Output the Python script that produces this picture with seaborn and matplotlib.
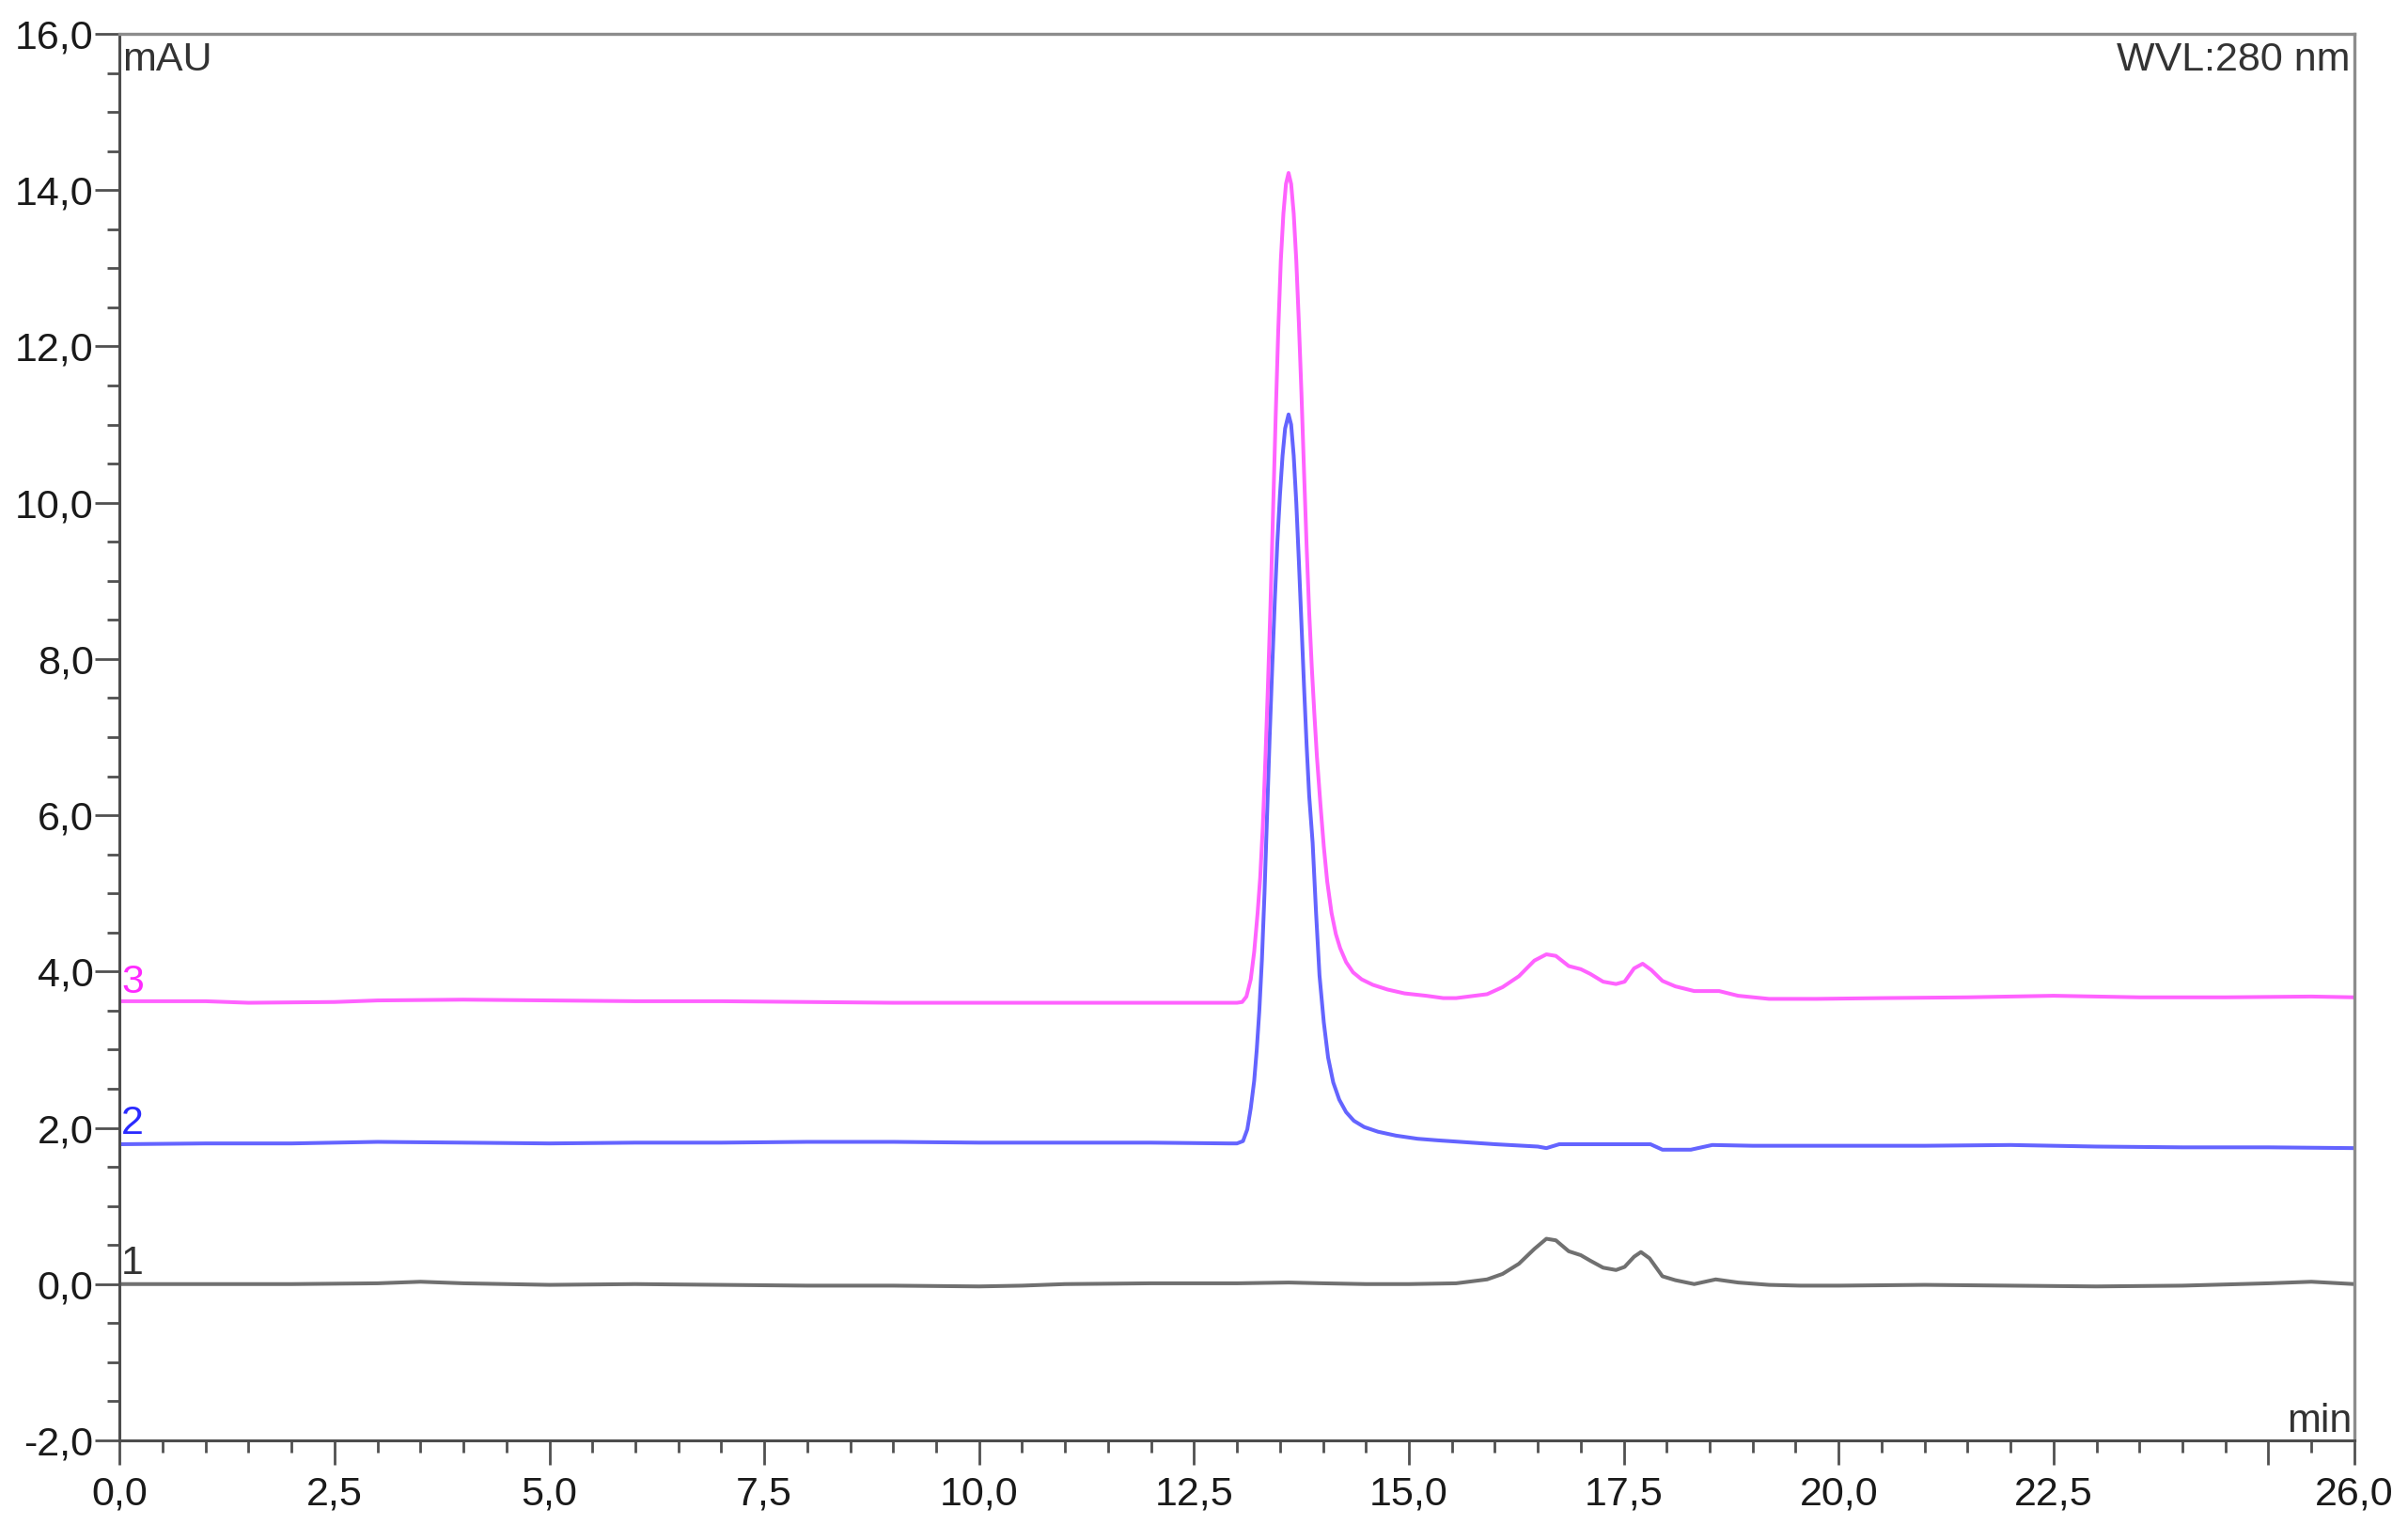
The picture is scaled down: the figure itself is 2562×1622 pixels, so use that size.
import pandas as pd
import matplotlib
matplotlib.use("Agg")
import matplotlib.pyplot as plt
from matplotlib.ticker import MultipleLocator, FixedLocator, FuncFormatter
import seaborn as sns

# trace 1 (grey) - retention time (min) / absorbance (mAU)
t1 = [0.0, 1.0, 2.0, 3.0, 3.5, 4.0, 5.0, 6.0, 7.0, 8.0, 9.0, 10.0, 10.5, 11.0,
      12.0, 13.0, 13.6, 14.0, 14.5, 15.0, 15.55, 15.91, 16.09, 16.28, 16.46,
      16.6, 16.71, 16.86, 17.0, 17.11, 17.26, 17.41, 17.51, 17.62, 17.7, 17.8,
      17.95, 18.1, 18.32, 18.57, 18.83, 19.19, 19.55, 20.0, 21.0, 22.0, 23.0,
      24.0, 25.0, 25.5, 26.0]
v1 = [0.0, 0.0, 0.0, 0.01, 0.03, 0.01, -0.01, 0.0, -0.01, -0.02, -0.02, -0.03,
      -0.02, 0.0, 0.01, 0.01, 0.02, 0.01, 0.0, 0.0, 0.01, 0.06, 0.13, 0.26,
      0.45, 0.58, 0.56, 0.42, 0.37, 0.3, 0.21, 0.18, 0.22, 0.35, 0.41, 0.33,
      0.1, 0.05, 0.0, 0.06, 0.02, -0.01, -0.02, -0.02, -0.01, -0.02, -0.03,
      -0.02, 0.01, 0.03, 0.0]

# trace 2 (blue)
t2 = [0.0, 1.0, 2.0, 3.0, 4.0, 5.0, 6.0, 7.0, 8.0, 9.0, 10.0, 11.0, 12.0, 12.9,
      13.0, 13.07, 13.12, 13.16, 13.2, 13.23, 13.26, 13.29, 13.32, 13.35,
      13.38, 13.41, 13.44, 13.47, 13.5, 13.53, 13.56, 13.6, 13.63, 13.66,
      13.69, 13.72, 13.75, 13.78, 13.81, 13.84, 13.88, 13.92, 13.96, 14.01,
      14.06, 14.12, 14.19, 14.27, 14.36, 14.48, 14.64, 14.85, 15.1, 15.33,
      15.6, 16.0, 16.5, 16.6, 16.75, 17.0, 17.5, 17.81, 17.95, 18.28, 18.53,
      19.0, 20.0, 21.0, 22.0, 23.0, 24.0, 25.0, 26.0]
v2 = [1.79, 1.8, 1.8, 1.82, 1.81, 1.8, 1.81, 1.81, 1.82, 1.82, 1.81, 1.81, 1.81,
      1.8, 1.8, 1.83, 1.98, 2.25, 2.6, 3.0, 3.5, 4.15, 5.0, 6.0, 7.0, 7.9,
      8.75, 9.5, 10.1, 10.6, 10.95, 11.13, 11.0, 10.6, 10.0, 9.25, 8.45, 7.65,
      6.9, 6.25, 5.65, 4.75, 3.95, 3.35, 2.9, 2.58, 2.36, 2.2, 2.09, 2.01,
      1.95, 1.9, 1.86, 1.84, 1.82, 1.79, 1.76, 1.74, 1.79, 1.79, 1.79, 1.79,
      1.72, 1.72, 1.78, 1.77, 1.77, 1.77, 1.78, 1.76, 1.75, 1.75, 1.74]

# trace 3 (magenta)
t3 = [0.0, 1.0, 1.5, 2.5, 3.0, 4.0, 5.0, 6.0, 7.0, 8.0, 9.0, 10.0, 11.0, 12.0,
      12.9, 13.0, 13.06, 13.11, 13.16, 13.2, 13.24, 13.27, 13.3, 13.33, 13.36,
      13.39, 13.42, 13.45, 13.48, 13.51, 13.54, 13.57, 13.6, 13.63, 13.66,
      13.69, 13.72, 13.75, 13.78, 13.81, 13.84, 13.87, 13.9, 13.93, 13.97,
      14.01, 14.05, 14.1, 14.15, 14.2, 14.27, 14.35, 14.45, 14.58, 14.75,
      14.95, 15.2, 15.4, 15.55, 15.91, 16.09, 16.28, 16.46, 16.6, 16.71, 16.86,
      17.0, 17.11, 17.26, 17.41, 17.51, 17.62, 17.72, 17.82, 17.95, 18.1,
      18.32, 18.61, 18.83, 19.19, 19.74, 20.5, 21.5, 22.5, 23.5, 24.5, 25.5,
      26.0]
v3 = [3.62, 3.62, 3.6, 3.61, 3.63, 3.64, 3.63, 3.62, 3.62, 3.61, 3.6, 3.6, 3.6,
      3.6, 3.6, 3.6, 3.61, 3.68, 3.9, 4.25, 4.75, 5.2, 5.85, 6.7, 7.65, 8.7,
      9.9, 11.1, 12.2, 13.1, 13.7, 14.08, 14.22, 14.08, 13.7, 13.1, 12.3, 11.4,
      10.4, 9.45, 8.6, 7.9, 7.3, 6.75, 6.15, 5.6, 5.15, 4.75, 4.48, 4.3, 4.12,
      3.99, 3.9, 3.83, 3.77, 3.72, 3.69, 3.66, 3.66, 3.71, 3.8, 3.94, 4.14,
      4.22, 4.2, 4.07, 4.03, 3.97, 3.87, 3.84, 3.87, 4.04, 4.1, 4.02, 3.88,
      3.81, 3.75, 3.75, 3.69, 3.65, 3.65, 3.66, 3.67, 3.69, 3.67, 3.67, 3.68,
      3.67]

trace_names = ["1", "2", "3"]
trace_colors = ["#707070", "#6464ff", "#ff62ff"]
label_colors = ["#333333", "#2a2aff", "#ff2aff"]
label_levels = [0.0, 1.79, 3.6]

df = pd.concat([
    pd.DataFrame({"min": t1, "mAU": v1, "trace": "1"}),
    pd.DataFrame({"min": t2, "mAU": v2, "trace": "2"}),
    pd.DataFrame({"min": t3, "mAU": v3, "trace": "3"}),
], ignore_index=True)

sns.set_style("white")
plt.rcParams["font.family"] = ["Liberation Sans", "DejaVu Sans"]

fig = plt.figure(figsize=(25.62, 16.22), dpi=100)
ax = fig.add_axes([0.0497, 0.0555, 0.928, 0.9223])

sns.lineplot(data=df, x="min", y="mAU", hue="trace", hue_order=trace_names,
             palette=trace_colors, estimator=None, sort=False, linewidth=2.9,
             legend=False, ax=ax)

ax.set_xlim(0, 26)
ax.set_ylim(-2, 16)
ax.set_xlabel("")
ax.set_ylabel("")

fmt = FuncFormatter(lambda v, p: f"{v:.1f}".replace(".", ","))
ax.xaxis.set_major_locator(FixedLocator([0, 2.5, 5, 7.5, 10, 12.5, 15, 17.5,
                                         20, 22.5, 25, 26]))
ax.xaxis.set_major_formatter(FuncFormatter(
    lambda v, p: "" if abs(v - 25) < 1e-6 else f"{v:.1f}".replace(".", ",")))
ax.xaxis.set_minor_locator(MultipleLocator(0.5))
ax.yaxis.set_major_locator(MultipleLocator(2))
ax.yaxis.set_major_formatter(fmt)
ax.yaxis.set_minor_locator(MultipleLocator(0.5))

ax.tick_params(which="major", direction="out", length=19, width=2,
               color="#505050", labelsize=31, labelcolor="#1a1a1a")
ax.tick_params(which="minor", direction="out", length=9.5, width=2,
               color="#505050")
ax.tick_params(axis="x", which="both", bottom=True, pad=8)
ax.tick_params(axis="y", which="both", left=True, pad=1)

for side in ["left", "bottom"]:
    ax.spines[side].set_color("#4d4d4d")
    ax.spines[side].set_linewidth(2.2)
for side in ["top", "right"]:
    ax.spines[side].set_color("#8c8c8c")
    ax.spines[side].set_linewidth(2.4)

ax.text(0.001, 0.974, "mAU", transform=ax.transAxes, fontsize=31,
        color="#333333", ha="left", va="baseline")
ax.text(0.998, 0.974, "WVL:280 nm", transform=ax.transAxes, fontsize=31,
        color="#333333", ha="right", va="baseline")
ax.text(0.999, 0.006, "min", transform=ax.transAxes, fontsize=31,
        color="#333333", ha="right", va="baseline")

for name, col, lev in zip(trace_names, label_colors, label_levels):
    ax.text(0.02, lev + 0.13, name, fontsize=31, color=col,
            ha="left", va="baseline")

fig.savefig("out.png", dpi=100)
